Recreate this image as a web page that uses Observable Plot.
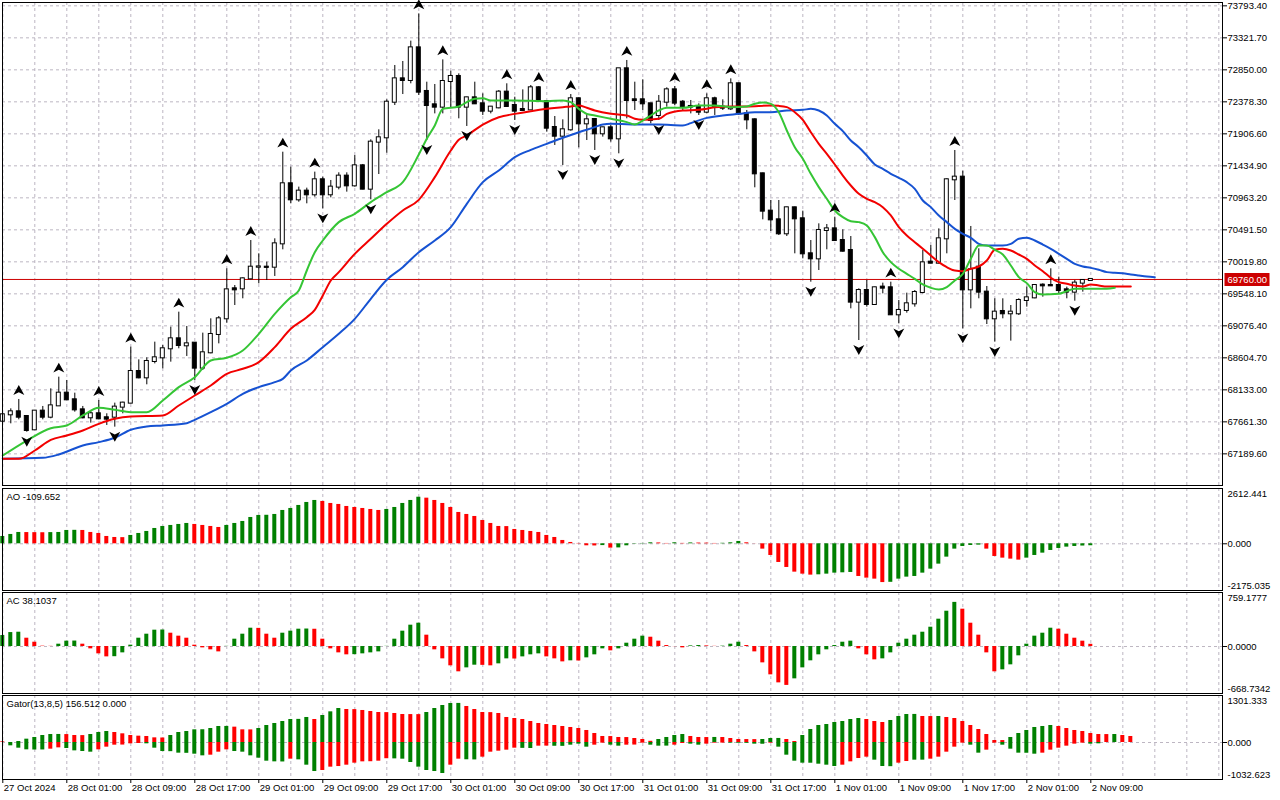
<!DOCTYPE html>
<html>
<head>
<meta charset="utf-8">
<script src="https://cdn.jsdelivr.net/npm/d3@7"></script>
<script src="https://cdn.jsdelivr.net/npm/@observablehq/plot@0.6"></script>
<style>
html,body{margin:0;padding:0;background:#fff;}
#chart{position:relative;width:1280px;height:800px;overflow:hidden;background:#fff;}
#chart svg{position:absolute;left:0;display:block;}
</style>
</head>
<body>
<div id="chart"></div>
<script>
// ---------- data ----------
const priceTicks = [73793.40, 73321.70, 72850.00, 72378.30, 71906.60, 71434.90, 70963.20, 70491.50, 70019.80, 69548.10, 69076.40, 68604.70, 68133.00, 67661.30, 67189.60];
const timeLabels = ["27 Oct 2024","28 Oct 01:00","28 Oct 09:00","28 Oct 17:00","29 Oct 01:00","29 Oct 09:00","29 Oct 17:00","30 Oct 01:00","30 Oct 09:00","30 Oct 17:00","31 Oct 01:00","31 Oct 09:00","31 Oct 17:00","1 Nov 01:00","1 Nov 09:00","1 Nov 17:00","2 Nov 01:00","2 Nov 09:00"];
const labelBars = [0,8,16,24,32,40,48,56,64,72,80,88,96,104,112,120,128,136];
const lastPrice = 69760.00;

const open = [67671,67765,67809,67740,67544,67819,67730,67897,68084,67986,
67838,67721,67780,67721,67730,67878,67937,68403,68310,68551,
68605,68738,68885,68782,68821,68453,68679,68949,69180,69622,
69622,69769,69941,69941,69941,70285,71170,70934,71062,71008,
71229,71008,71121,71283,71140,71435,71091,71784,71848,72373,
72717,72693,73174,72531,72334,72300,72678,72752,72300,72437,
72349,72241,72290,72521,72324,72265,72260,72585,72383,72000,
71872,71966,72423,72054,72118,71907,71995,71833,72865,72408,
72408,72349,72177,72373,72555,72373,72310,72310,72226,72423,
72300,72275,72644,72201,72113,71317,70767,70639,70433,70816,
70654,70138,70064,70482,70506,70334,70187,69426,69597,69391,
69647,69637,69239,69303,69401,69568,70015,70000,70359,71229,
71268,69607,69941,69573,69180,69288,69254,69254,69450,69489,
69676,69671,69671,69607,69573,69706,69745];
const high = [67780,67853,67991,67755,67829,67888,68148,68320,68271,68084,
67888,67819,67976,67780,67937,67951,68762,68575,68605,68836,
68787,69057,69278,69067,68830,68969,69180,69214,69917,69671,
69784,70334,70138,70015,70359,71636,71415,71121,71106,71342,
71268,71219,71332,71332,71587,71455,71818,71966,72408,72914,
72973,73273,73675,72668,72634,72997,72830,72791,72447,72668,
72496,72310,72545,72644,72447,72555,72619,72604,72398,72162,
72113,72486,72437,72201,72128,72005,72030,72870,72988,72668,
72703,72355,72472,72585,72604,72398,72398,72349,72496,72447,
72408,72717,72653,72251,72128,71327,70924,70924,70826,70826,
70767,70334,70580,70570,70678,70492,70393,69622,69745,69647,
69706,69720,69450,69558,69597,70187,70261,70506,71244,71661,
71356,70541,70212,69656,69475,69475,69376,69475,69647,69686,
69696,69917,69794,69647,69745,69755,69765];
const low = [67657,67632,67691,67509,67534,67691,67706,67888,67976,67804,
67706,67642,67691,67608,67583,67780,67927,68295,68207,68516,
68443,68541,68738,68625,68271,68418,68664,68811,69116,69376,
69475,69755,69696,69745,69804,70197,70875,70899,70875,70973,
70801,70963,71081,71047,71121,71081,70934,71307,71622,72324,
72486,72644,72472,71808,72201,72201,72290,72128,72015,72339,
72177,72201,72275,72300,72103,72236,72251,72373,71931,71735,
71440,71946,71700,71808,71661,71858,71784,71612,72128,72251,
72251,72054,72103,72300,72324,72251,72201,72177,72201,72177,
72251,72251,72177,71966,71111,70639,70467,70408,70393,70138,
70064,69720,69892,70197,70325,70162,69327,68860,69352,69376,
69548,69229,69106,69263,69352,69548,69990,69990,70138,70924,
69032,69327,69475,69096,68836,69180,68851,69229,69352,69475,
69499,69656,69548,69475,69440,69573,69740];
const close = [67765,67809,67730,67534,67819,67730,67897,68084,67986,67838,
67721,67780,67706,67701,67878,67937,68403,68310,68551,68605,
68738,68885,68787,68811,68453,68679,68949,69180,69607,69607,
69769,69941,69945,69938,70285,71170,70934,71062,71008,71229,
71008,71121,71283,71140,71435,71091,71784,71848,72373,72717,
72693,73174,72521,72324,72300,72678,72752,72300,72437,72349,
72241,72300,72521,72310,72241,72251,72585,72388,71990,71872,
71966,72423,72054,72113,71907,71995,71833,72865,72398,72398,
72349,72103,72373,72555,72359,72310,72300,72226,72423,72300,
72285,72644,72201,72113,71317,70767,70639,70433,70816,70654,
70138,70064,70482,70506,70334,70177,69426,69597,69391,69637,
69632,69239,69303,69401,69568,70005,70000,70359,71229,71268,
69607,69902,69573,69180,69278,69254,69278,69450,69489,69671,
69666,69666,69597,69573,69706,69745,69760];

const fractalUp = [2,7,12,16,22,28,31,35,39,52,55,63,67,71,78,84,88,91,104,111,119,131];
const fractalDown = [3,14,24,40,46,53,58,64,70,74,77,82,87,101,107,112,120,124,134];

// Alligator (already shifted forward on the chart): bar index + value
const jawBars = [0,5,7,10,12,14,16,18,20,23,24,26,28,30,32,34,35,36,38,40,42,44,46,48,50,52,54,56,58,60,62,64,66,68,70,72,74,75,76,80,82,85,86,88,90,92,94,96,98,100,101,102,103,104,105,106,107,108,109,110,111,112,113,114,115,116,117,118,119,120,121,122,123,125,126,127,128,129,130,131,132,133,134,135,136,137,138,139,140,141,142,143,144];
const jawVals = [67116,67131,67180,67313,67362,67426,67544,67593,67608,67642,67691,67804,67927,68074,68173,68246,68295,68418,68566,68762,68959,69180,69475,69755,69941,70162,70334,70531,70875,71194,71366,71563,71671,71759,71848,71931,72005,72044,72054,72044,72044,72030,72064,72142,72177,72201,72226,72226,72251,72260,72275,72251,72177,72054,71946,71808,71710,71587,71455,71391,71317,71258,71194,71096,70924,70826,70703,70605,70506,70433,70374,70285,70261,70261,70285,70359,70374,70334,70275,70212,70138,70064,69990,69951,69931,69902,69868,69858,69853,69833,69818,69804,69794];
const teethBars = [0,2,4,6,8,10,12,14,16,20,22,24,26,28,30,32,34,36,38,39,40,41,42,44,46,48,50,52,54,56,57,58,60,62,64,66,68,70,71,72,73,74,76,78,79,80,82,83,85,87,88,89,91,93,96,97,98,99,100,101,102,103,104,105,106,107,108,109,110,111,112,113,114,115,116,117,118,119,120,121,122,123,124,125,126,127,128,129,130,131,132,133,134,135,136,137,138,139,141];
const teethVals = [67116,67116,67239,67396,67460,67534,67632,67706,67740,67755,67902,68050,68197,68369,68443,68541,68762,69032,69204,69312,69524,69745,69868,70138,70359,70580,70777,70934,71268,71661,71818,71882,72044,72152,72201,72241,72275,72300,72310,72324,72290,72251,72201,72177,72128,72113,72128,72201,72251,72260,72275,72300,72310,72310,72324,72319,72300,72226,72113,71931,71759,71612,71455,71292,71145,71022,70949,70899,70826,70703,70531,70408,70310,70212,70113,70015,69941,69892,69882,69917,69951,70040,70197,70212,70187,70128,70064,69966,69882,69784,69720,69696,69671,69656,69686,69671,69656,69656,69656];
const lipsBars = [0,3,6,8,10,12,14,16,18,20,22,24,26,28,30,32,34,36,37,38,39,40,42,44,46,48,50,52,53,54,55,57,58,59,60,61,64,68,70,71,72,73,74,76,78,79,80,81,82,83,85,87,89,91,93,94,95,96,97,98,99,100,101,102,103,104,105,106,107,108,109,110,111,112,113,114,115,116,117,118,119,120,121,122,123,124,125,126,127,128,129,130,132,133,134,136,138,139];
const lipsVals = [67165,67386,67568,67608,67755,67868,67838,67804,67804,67976,68173,68320,68566,68605,68713,68959,69254,69499,69597,69892,70162,70334,70605,70728,70900,71047,71194,71602,71833,72030,72275,72310,72373,72423,72432,72398,72398,72388,72398,72373,72275,72201,72177,72128,72079,72044,72103,72177,72251,72290,72290,72324,72324,72300,72310,72349,72369,72349,72226,71956,71710,71538,71317,71121,70949,70777,70678,70619,70605,70556,70384,70162,70015,69917,69843,69769,69686,69637,69612,69647,69745,69843,70064,70261,70261,70197,70128,69966,69794,69706,69573,69538,69548,69588,69622,69622,69622,69637];

// Awesome Oscillator
const aoVals = [411,524,636,630,625,620,628,636,748,756,
748,636,580,411,355,345,468,580,692,860,
972,1029,1085,1141,1085,1029,972,916,1029,1141,
1253,1477,1590,1600,1646,1870,1982,2151,2319,2431,
2375,2263,2207,2094,2038,1982,1926,1870,1926,2038,
2263,2431,2612.441,2560,2431,2263,2038,1758,1646,1533,
1309,1141,972,965,804,748,692,636,468,355,
187,75,19,-112,-120,-100,-243,-230,-112,-19,
19,56,48,19,56,22,48,42,37,19,
28,56,131,56,-6,-299,-655,-1047,-1328,-1590,
-1702,-1758,-1740,-1702,-1646,-1627,-1608,-1833,-1926,-1982,
-2175.035,-2160,-1982,-1870,-1833,-1646,-1421,-1141,-748,-299,
-150,-94,-75,-299,-711,-804,-860,-916,-804,-655,
-524,-374,-262,-187,-150,-125,-109.652];
const aoColorRuns = "3g 3r 4g 6r 8g 4r 12g 8r 5g 22r 1g 1r 5g 2r 1g 1r 1g 3r 3g 9r 5g 4r 12g 5r 9g";

// Accelerator Oscillator
const acVals = [189,240,246,143,74,6,3,40,92,94,
40,-40,-126,-178,-175,-109,23,143,212,281,
284,229,178,143,23,-23,-57,-92,3,126,
212,315,312,212,143,229,264,298,301,297,
126,-40,-109,-143,-140,-126,-109,-92,3,126,
264,367,401,195,-57,-212,-332,-435,-367,-321,
-324,-332,-298,-212,-215,-178,-143,-126,-178,-212,
-264,-246,-249,-195,-143,-40,-74,-40,57,126,
178,160,92,17,-2,-23,11,17,11,3,
6,40,74,17,-92,-281,-487,-625,-668.7342,-556,
-367,-246,-143,-57,17,74,92,-40,-143,-229,
-212,-109,57,126,195,246,332,470,607,759.1777,
642,401,195,-109,-435,-401,-315,-160,40,178,
229,315,298,212,143,92,38.1037];
const acColorRuns = "3g 4r 3g 4r 7g 7r 4g 3r 4g 5r 9g 5r 2g 2r 2g 1r 3g 3r 1g 1r 3g 1r 4g 5r 2g 2r 3g 6r 8g 3r 10g 5r 7g 5r";

// Gator oscillator (upper |jaw-teeth|, lower -|teeth-lips|)
const gatorUp = [22,0,33,111,167,233,266,268,264,233,
230,266,333,366,333,289,233,211,200,155,
150,233,333,366,422,425,466,533,535,511,
422,420,466,566,633,699,766,770,833,766,
899,1021,1132,1099,1095,1066,1032,999,995,966,
932,930,928,999,1132,1232,1299,1301.333,1199,1099,
999,995,966,833,799,766,699,633,599,566,
533,500,466,400,300,200,198,167,165,133,
100,40,100,167,233,266,200,167,165,168,
166,133,100,98,96,100,133,135,100,33,
233,433,566,599,666,699,766,799,766,699,
666,733,866,932,935,866,864,866,833,799,
699,566,433,266,66,64,167,300,400,500,
533,566,533,466,400,366,300,266,264,266,
233,200];
const gatorUpColorRuns = "1r 7g 3r 3g 7r 8g 3r 7g 1r 3g 10r 5g 24r 4g 3r 1g 5r 3g 2r 8g 3r 4g 2r 1g 8r 6g 7r 1g 2r";
const gatorDown = [0,-111,-189,-244,-250,-248,-222,-178,-200,-278,
-300,-322,-244,-155,-89,-85,-44,-33,-44,-189,
-300,-305,-355,-360,-389,-444,-422,-322,-244,-300,
-322,-444,-522,-622,-644,-648,-555,-577,-755,-966,
-932,-821,-800,-755,-688,-644,-640,-622,-540,-545,
-555,-666,-821,-932,-966,-1032.623,-755,-555,-575,-580,
-488,-322,-289,-255,-189,-195,-200,-122,-120,-125,
-128,-89,-55,-155,-89,-22,-89,-122,-89,-85,
-22,-89,-122,-120,-89,-33,-55,-89,-55,-22,
-20,-22,-25,-27,-55,-58,-22,-155,-422,-622,
-688,-690,-722,-755,-799,-755,-644,-533,-488,-588,
-799,-805,-688,-633,-588,-588,-555,-488,-322,-155,
-22,-89,-355,-255,-22,-89,-222,-355,-358,-389,
-355,-255,-189,-122,-55,-22,-55,-44];
const gatorDownColorRuns = "6g 2r 4g 6r 8g 3r 7g 1r 3g 9r 7g 2r 2g 5r 2g 2r 5g 2r 2g 3r 3g 2r 2g 3r 5g 1r 8g 4r 3g 2r 2g 5r 2g 2r 5g 6r 2g";

const aoTitle = "AO -109.652";
const acTitle = "AC 38.1037";
const gatorTitle = "Gator(13,8,5) 156.512 0.000";
const aoAxis = ["2612.441", "0.000", "-2175.035"];
const acAxis = ["759.1777", "0.0000", "-668.7342"];
const gatorAxis = ["1301.333", "0.000", "-1032.623"];

// ---------- drawing ----------
const GRID = "#bdb6c2";
const DASH = "3,3";
const GREEN = "#008000", RED = "#ff0000";
const W = 1280, ML = 2, MR = 58;
const X = {domain: [-0.0375, 152.46], axis: null};
const FONT = '"Liberation Sans", Arial, sans-serif';
const baseStyle = {fontFamily: FONT, fontSize: "9.5px", background: "transparent", color: "#000", overflow: "visible"};
const gridBars = d3.range(0, 153, 4);

function expandRuns(s) {
  return s.trim().split(/\s+/).flatMap(t => {
    const n = parseInt(t, 10);
    return Array(n).fill(t.replace(/^\d+/, ""));
  });
}
function bars(vals, runs) {
  const cols = expandRuns(runs);
  return vals.map((v, i) => ({i, v, c: cols[i] === "r" ? "r" : "g"}));
}
const toPts = (b, v) => b.map((x, k) => ({i: x, v: v[k]}));

const container = document.getElementById("chart");
function place(svg, top) {
  svg.style.position = "absolute";
  svg.style.top = top + "px";
  svg.style.left = "0px";
  container.appendChild(svg);
}

const candles = open.map((o, i) => ({i, open: o, high: high[i], low: low[i], close: close[i]}));
const jaw = toPts(jawBars, jawVals);
const teeth = toPts(teethBars, teethVals);
const lips = toPts(lipsBars, lipsVals);

// fractal darts (Bill Williams arrows)
const upArrow = {draw(ctx, size) {
  const r = Math.sqrt(size / Math.PI);
  ctx.moveTo(0, -r); ctx.lineTo(r, r * 0.8); ctx.lineTo(0, r * 0.3); ctx.lineTo(-r, r * 0.8); ctx.closePath();
}};
const downArrow = {draw(ctx, size) {
  const r = Math.sqrt(size / Math.PI);
  ctx.moveTo(0, r); ctx.lineTo(r, -r * 0.8); ctx.lineTo(0, -r * 0.3); ctx.lineTo(-r, -r * 0.8); ctx.closePath();
}};
// box for the current-price tag on the right scale
const tagBox = {draw(ctx) { ctx.rect(2, -6.5, 45, 13); }};

const main = Plot.plot({
  width: W, height: 487, marginLeft: ML, marginRight: MR, marginTop: 2, marginBottom: 2,
  x: X,
  y: {domain: [66723, 73842.5], axis: null},
  style: baseStyle,
  marks: [
    Plot.ruleX(gridBars, {x: d => d, stroke: GRID, strokeDasharray: DASH}),
    Plot.ruleY(priceTicks, {y: d => d, stroke: GRID, strokeDasharray: DASH}),
    Plot.ruleY([lastPrice], {y: d => d, stroke: "#cc0000"}),
    Plot.ruleX(candles, {x: "i", y1: "low", y2: "high", stroke: "#000"}),
    Plot.rect(candles, {x1: d => d.i - 0.25, x2: d => d.i + 0.25, y1: "open", y2: "close",
      insetTop: -0.5, insetBottom: -0.5,
      fill: d => d.close >= d.open ? "#fff" : "#000", stroke: "#000"}),
    Plot.line(jaw, {x: "i", y: "v", stroke: "#1652d2", strokeWidth: 2, curve: "monotone-x"}),
    Plot.line(teeth, {x: "i", y: "v", stroke: "#f20000", strokeWidth: 2, curve: "monotone-x"}),
    Plot.line(lips, {x: "i", y: "v", stroke: "#35c535", strokeWidth: 2, curve: "monotone-x"}),
    Plot.dot(fractalUp, {x: d => d, y: d => high[d], dy: -9, symbol: upArrow, r: 5.5, fill: "#000"}),
    Plot.dot(fractalDown, {x: d => d, y: d => low[d], dy: 9, symbol: downArrow, r: 5.5, fill: "#000"}),
    Plot.frame({stroke: "#000"}),
    Plot.axisY({anchor: "right", ticks: priceTicks, tickFormat: d => d.toFixed(2), tickSize: 4, tickPadding: 1, label: null}),
    Plot.dot([lastPrice], {y: d => d, frameAnchor: "right", symbol: tagBox, r: 1, fill: "#cc0000"}),
    Plot.text([lastPrice], {y: d => d, frameAnchor: "right", dx: 5, textAnchor: "start",
      text: d => d.toFixed(2), fill: "#fff"})
  ]
});
place(main, 0);

function panel(top, height, mb, domain, series, title, axisLbl, extra = []) {
  const marks = [
    Plot.ruleX(gridBars, {x: d => d, stroke: GRID, strokeDasharray: DASH}),
    Plot.ruleY([0], {y: d => d, stroke: GRID, strokeDasharray: DASH})
  ];
  for (const s of series) {
    marks.push(Plot.rect(s.filter(d => d.c === "g"), {x1: d => d.i - 0.25, x2: d => d.i + 0.25, y1: 0, y2: "v", fill: GREEN}));
    marks.push(Plot.rect(s.filter(d => d.c === "r"), {x1: d => d.i - 0.25, x2: d => d.i + 0.25, y1: 0, y2: "v", fill: RED}));
  }
  marks.push(
    Plot.frame({stroke: "#000"}),
    Plot.text([title], {frameAnchor: "top-left", dx: 4, dy: 5, textAnchor: "start", lineAnchor: "top", text: d => d}),
    Plot.text([axisLbl[0]], {frameAnchor: "top-right", dx: 5, dy: 1.5, textAnchor: "start", lineAnchor: "top", text: d => d}),
    Plot.text([0], {y: d => d, frameAnchor: "right", dx: 5, textAnchor: "start", text: () => axisLbl[1]}),
    Plot.text([axisLbl[2]], {frameAnchor: "bottom-right", dx: 5, dy: -1.5, textAnchor: "start", lineAnchor: "bottom", text: d => d}),
    Plot.axisY({anchor: "right", ticks: [0], tickSize: 4, tickFormat: () => "", label: null}),
    ...extra
  );
  const svg = Plot.plot({
    width: W, height, marginLeft: ML, marginRight: MR, marginTop: 1, marginBottom: mb,
    x: X, y: {domain, axis: null}, style: baseStyle, marks
  });
  place(svg, top);
  return svg;
}

panel(487, 104, 1, [-2620, 3102], [bars(aoVals, aoColorRuns)], aoTitle, aoAxis);
panel(591, 103, 1, [-808, 929], [bars(acVals, acColorRuns)], acTitle, acAxis);
panel(694, 106, 21, [-1232, 1565],
  [bars(gatorUp, gatorUpColorRuns), bars(gatorDown, gatorDownColorRuns)],
  gatorTitle, gatorAxis,
  [
    Plot.axisX({anchor: "bottom", ticks: labelBars, tickSize: 4, tickFormat: () => "", label: null}),
    Plot.text(labelBars, {x: d => d, text: (d, i) => timeLabels[i], frameAnchor: "bottom",
      textAnchor: "start", lineAnchor: "top", dx: 1, dy: 5})
  ]);
</script>
</body>
</html>
